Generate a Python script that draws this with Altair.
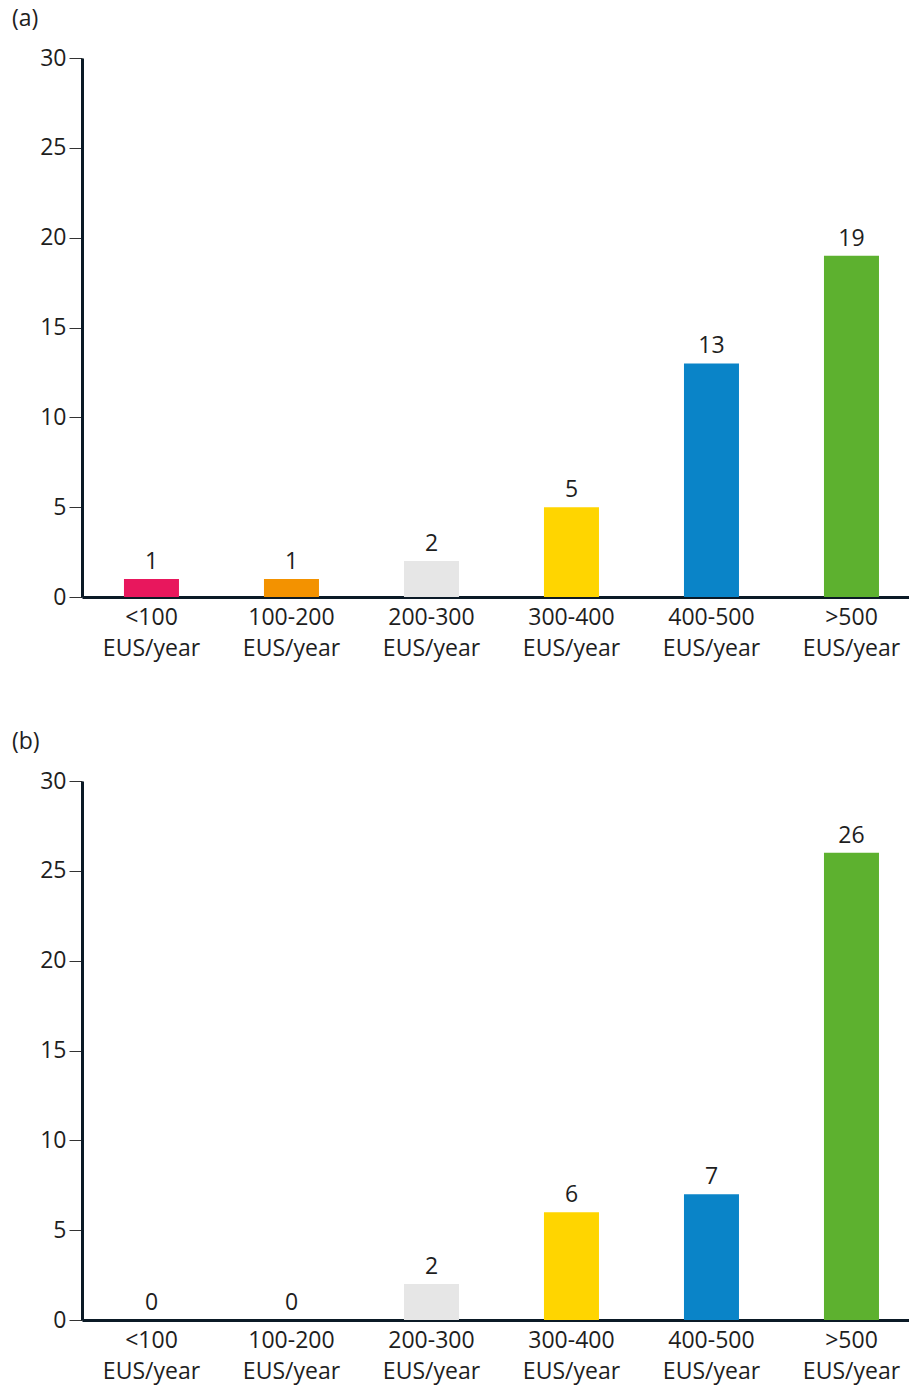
import altair as alt
import pandas as pd

categories = ["<100 EUS/year", "100-200 EUS/year", "200-300 EUS/year",
              "300-400 EUS/year", "400-500 EUS/year", ">500 EUS/year"]
values_a = [1, 1, 2, 5, 13, 19]
values_b = [0, 0, 2, 6, 7, 26]
colors = ["#E8175D", "#F39200", "#E6E6E6", "#FFD500", "#0A84C8", "#5DB12F"]
panel_titles = ["(a)", "(b)"]

FONT = "Open Sans"
AXIS_COLOR = "#0B1A26"
TEXT_COLOR = "#1E1E1E"
FS = 23


def panel(values, title):
    df = pd.DataFrame({"cat": categories, "value": values})
    x = alt.X("cat:N", sort=categories,
              scale=alt.Scale(paddingInner=0.6071, paddingOuter=0.2571, align=0.583),
              axis=alt.Axis(title=None, labelAngle=0, ticks=False,
                            labelExpr="split(datum.label, ' ')",
                            labelLineHeight=31, labelPadding=9,
                            labelFontSize=FS, labelFont=FONT, labelColor=TEXT_COLOR,
                            domainColor=AXIS_COLOR, domainWidth=3))
    y = alt.Y("value:Q", scale=alt.Scale(domain=[0, 30], nice=False),
              axis=alt.Axis(title=None, values=[0, 5, 10, 15, 20, 25, 30], grid=False,
                            tickSize=13, tickWidth=1, tickColor="#333333",
                            labelPadding=3, labelFontSize=FS, labelFont=FONT,
                            labelColor=TEXT_COLOR,
                            domainColor=AXIS_COLOR, domainWidth=3))
    base = alt.Chart(df).encode(x=x, y=y)
    bars = base.mark_bar().encode(
        color=alt.Color("cat:N", sort=categories,
                        scale=alt.Scale(domain=categories, range=colors), legend=None))
    labels = base.mark_text(baseline="alphabetic", dy=-10, fontSize=FS, font=FONT,
                            color=TEXT_COLOR).encode(text="value:Q")
    return (bars + labels).properties(
        width=827, height=539,
        title=alt.TitleParams(title, anchor="start", frame="group", dx=-70, dy=-12,
                              fontSize=FS, font=FONT, fontWeight="normal",
                              color=TEXT_COLOR))


chart = alt.vconcat(panel(values_a, panel_titles[0]), panel(values_b, panel_titles[1]),
                    spacing=184, bounds="flush").properties(
    padding={"left": 12, "top": 8, "right": 0, "bottom": 8},
).configure_view(stroke=None)

chart.save("out.html", embed_options={"renderer": "svg", "actions": False})
